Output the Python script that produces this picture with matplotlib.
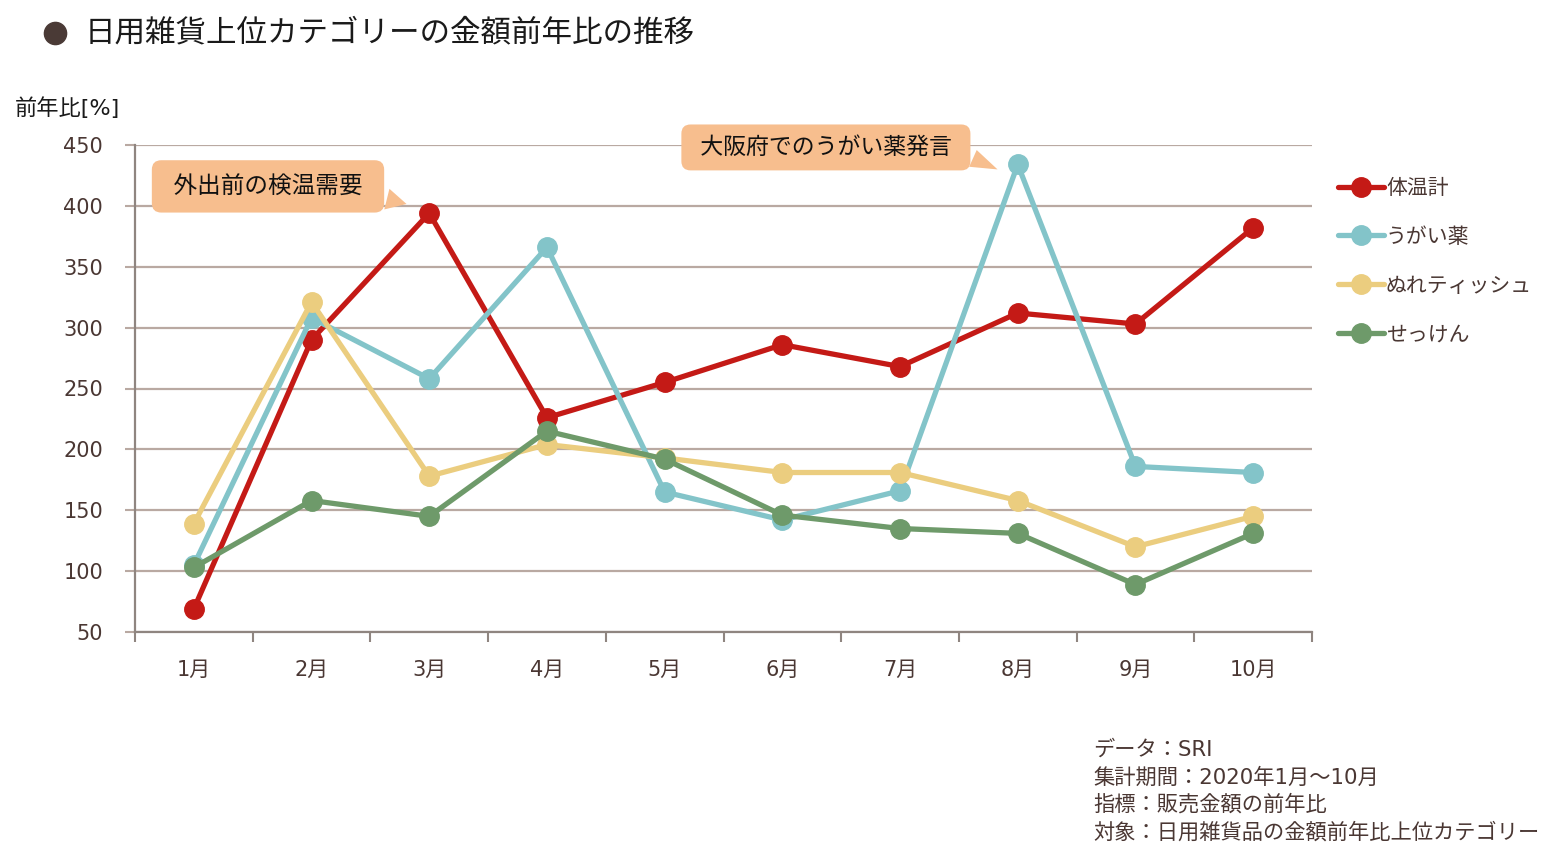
import matplotlib.pyplot as plt
from matplotlib.lines import Line2D
import numpy as np

plt.rcParams['font.family'] = ['DejaVu Sans', 'Noto Sans CJK JP']

months = ['1月', '2月', '3月', '4月', '5月', '6月', '7月', '8月', '9月', '10月']
taionkei = [69, 290, 394, 226, 255, 286, 268, 312, 303, 382]
ugaiyaku = [105, 308, 258, 366, 165, 142, 166, 434, 186, 181]
nure_tissue = [139, 321, 178, 204, 193, 181, 181, 158, 120, 145]
sekken = [103, 158, 145, 215, 192, 146, 135, 131, 89, 131]

names = ['体温計', 'うがい薬', 'ぬれティッシュ', 'せっけん']
colors = ['#C41A16', '#83C4C9', '#EBCD7F', '#6E9A6A']
text_col = '#4A3733'
grid_col = '#B9A9A2'
spine_col = '#8F8580'

fig = plt.figure(figsize=(15.61, 8.6), dpi=100)
ax = fig.add_axes([135 / 1561, 1 - 632 / 860, 1177 / 1561, 487 / 860])

x = np.arange(len(months))
for vals, name, c in zip([taionkei, ugaiyaku, nure_tissue, sekken], names, colors):
    ax.plot(x, vals, color=c, lw=3.8, marker='o', ms=14, label=name,
            solid_capstyle='round', zorder=3)

ax.set_xlim(-0.5, len(months) - 0.5)
ax.set_ylim(50, 450)
ax.set_yticks(np.arange(50, 451, 50))
ax.yaxis.grid(True, color=grid_col, lw=1.6)
ax.set_axisbelow(True)

ax.set_xticks(x)
ax.set_xticklabels(months)
ax.set_xticks(np.arange(-0.5, len(months), 1), minor=True)
ax.tick_params(axis='x', which='major', length=0, pad=20, labelsize=15, labelcolor=text_col)
ax.tick_params(axis='x', which='minor', length=7, width=1.5, color=spine_col, direction='out')
ax.tick_params(axis='y', length=7, width=1.5, color=grid_col, pad=16, labelsize=15, labelcolor=text_col)

for s in ['top', 'right']:
    ax.spines[s].set_visible(False)
for s in ['left', 'bottom']:
    ax.spines[s].set_color(spine_col)
    ax.spines[s].set_linewidth(1.6)

# 吹き出し
box_fc = '#F7BE8E'
ax.annotate(' 外出前の検温需要 ', xy=(1.83, 401), xytext=(0.63, 416),
            ha='center', va='center', fontsize=17, color='#111111',
            bbox=dict(boxstyle='round,pad=0.6,rounding_size=0.4', fc=box_fc, ec='none'),
            arrowprops=dict(arrowstyle='wedge,tail_width=0.9,shrink_factor=0.5',
                            fc=box_fc, ec='none', relpos=(0.95, 0.25)),
            annotation_clip=False)
ax.annotate(' 大阪府でのうがい薬発言 ', xy=(6.85, 429), xytext=(5.37, 448),
            ha='center', va='center', fontsize=16.5, color='#111111',
            bbox=dict(boxstyle='round,pad=0.5,rounding_size=0.4', fc=box_fc, ec='none'),
            arrowprops=dict(arrowstyle='wedge,tail_width=0.8,shrink_factor=0.5',
                            fc=box_fc, ec='none', relpos=(0.98, 0.4)),
            annotation_clip=False)

ax.legend(loc='upper left', bbox_to_anchor=(1338 / 1561, 1 - 178 / 860),
          bbox_transform=fig.transFigure, frameon=False, fontsize=15,
          handlelength=2.2, handletextpad=0.1, labelspacing=1.38,
          borderpad=0, borderaxespad=0, labelcolor=text_col)

# タイトル
fig.add_artist(Line2D([55 / 1561], [1 - 33 / 860], marker='o', ms=16,
                      color='#4A3A36', transform=fig.transFigure))
fig.text(85 / 1561, 1 - 33 / 860, '日用雑貨上位カテゴリーの金額前年比の推移',
         fontsize=22, color='#1A1A1A', va='center', ha='left')
fig.text(15 / 1561, 1 - 108 / 860, '前年比[%]', fontsize=16, color='#1A1A1A',
         va='center', ha='left')

notes = ['データ：SRI', '集計期間：2020年1月～10月', '指標：販売金額の前年比',
         '対象：日用雑貨品の金額前年比上位カテゴリー']
for i, t in enumerate(notes):
    fig.text(1093 / 1561, 1 - (750 + 27.3 * i) / 860, t, fontsize=15.3,
             color=text_col, va='center', ha='left')

fig.savefig('out.png', dpi=100)
